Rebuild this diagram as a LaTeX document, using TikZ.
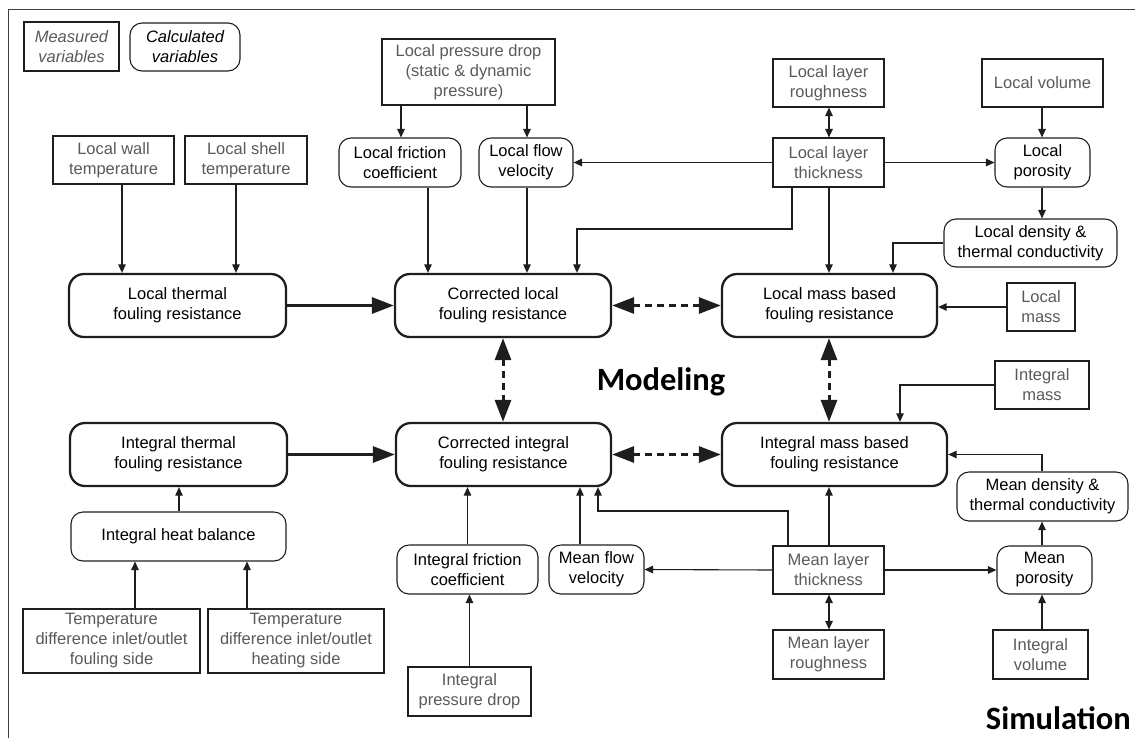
\documentclass[tikz,border=0pt]{standalone}
\usepackage{fontspec}
\setmainfont{Liberation Sans}
\newfontfamily\calib{Carlito}
\usetikzlibrary{arrows.meta}
\definecolor{lc}{HTML}{1E1E1E}
\definecolor{tg}{HTML}{5A5A5A}
\newcommand\place[7]{\node[#2,minimum width={(#5)-(#3)},minimum height={(#6)-(#4)}] (#1) at ({((#3)+(#5))/2},{((#4)+(#6))/2}) {#7};}
\begin{document}
\begin{tikzpicture}[x=1pt,y=-1pt,
 every node/.style={font=\fontsize{16.5}{20}\selectfont, align=center, inner sep=0pt},
 meas/.style={draw=lc, line width=1.1pt, text=tg},
 calc/.style={draw=lc, line width=1.1pt, rounded corners=12pt, text=black},
 boldb/.style={draw=lc, line width=2.3pt, rounded corners=15pt, text=black},
 arr/.style={draw=lc, line width=1.1pt, -{Triangle[length=8.5pt,width=7.5pt]}},
 darr/.style={draw=lc, line width=1.1pt, {Triangle[length=8.5pt,width=7.5pt]}-{Triangle[length=8.5pt,width=7.5pt]}},
 fat/.style={draw=lc, line width=3pt, -{Triangle[length=22pt,width=16pt]}},
 dsh/.style={draw=lc, line width=3pt, dash pattern=on 7pt off 5pt, {Triangle[length=22pt,width=16pt]}-{Triangle[length=22pt,width=16pt]}},
 title/.style={font=\calib\bfseries\fontsize{32.5}{38}\selectfont, text=black}]
\useasboundingbox (0,0) rectangle (1135,737);
\draw[line width=1pt, black!75] (8,745) -- (8,9) -- (1145,9);

% legend
\place{meas}{meas}{24}{22}{119}{71}{\itshape Measured\\\itshape variables}
\place{calc}{calc}{130}{23}{240}{71}{\itshape Calculated\\\itshape variables}

% top
\place{lpd}{meas}{382}{39}{555}{105}{Local pressure drop\\(static \& dynamic\\pressure)}
\place{lrough}{meas}{773}{59}{884}{107}{Local layer\\roughness}
\place{lvol}{meas}{982}{59}{1103}{107}{Local volume}
\place{lwall}{meas}{53}{136}{174}{184}{Local wall\\temperature}
\place{lshell}{meas}{185}{136}{307}{184}{Local shell\\temperature}
\place{lfric}{calc}{339}{138}{461}{187}{Local friction\\coefficient}
\place{lvel}{calc}{479}{138}{573}{187}{Local flow\\velocity}
\place{lthick}{meas}{773}{138}{884}{187}{Local layer\\thickness}
\place{lpor}{calc}{995}{138}{1090}{187}{Local\\porosity}
\place{ldens}{calc}{944}{219}{1117}{267}{Local density \&\\thermal conductivity}

% main
\place{lth}{boldb}{69}{274}{286}{337}{Local thermal\\fouling resistance}
\place{clocal}{boldb}{395}{274}{611}{337}{Corrected local\\fouling resistance}
\place{lmass}{boldb}{722}{274}{937}{337}{Local mass based\\fouling resistance}
\place{lmassm}{meas}{1007}{283}{1075}{331}{Local\\mass}
\place{imassm}{meas}{995}{361}{1089}{409}{Integral\\mass}
\place{ith}{boldb}{70}{423}{287}{486}{Integral thermal\\fouling resistance}
\place{cint}{boldb}{396}{423}{611}{486}{Corrected integral\\fouling resistance}
\place{imass}{boldb}{722}{423}{947}{486}{Integral mass based\\fouling resistance}

% bottom
\place{mdens}{calc}{957}{472}{1128}{521}{Mean density \&\\thermal conductivity}
\place{hb}{calc}{71}{512}{286}{561}{Integral heat balance}
\place{ifric}{calc}{397}{545}{538}{594}{Integral friction\\coefficient}
\place{mvel}{calc}{549}{545}{644}{594}{Mean flow\\velocity}
\place{mthick}{meas}{773}{546}{884}{594}{Mean layer\\thickness}
\place{mpor}{calc}{997}{546}{1092}{594}{Mean\\porosity}
\place{tfoul}{meas}{23}{609}{200}{673}{Temperature\\difference inlet/outlet\\fouling side}
\place{theat}{meas}{208}{609}{384}{673}{Temperature\\difference inlet/outlet\\heating side}
\place{mrough}{meas}{773}{630}{884}{679}{Mean layer\\roughness}
\place{ivol}{meas}{993}{630}{1088}{679}{Integral\\volume}
\place{ipd}{meas}{408}{667}{531}{716}{Integral\\pressure drop}

\node[title] (model) at (661,382) {Modeling};
\node[title, anchor=base east] (sim) at (1131,729) {Simulation};

% helper coordinates
\coordinate (v1) at (122,0);
\coordinate (v2) at (236,0);
\coordinate (v3) at (401,0);
\coordinate (v4) at (527,0);
\coordinate (v5) at (428,0);
\coordinate (v6) at (829,0);
\coordinate (v7) at (1042,0);
\coordinate (b1) at (792,229);
\coordinate (b2) at (577,229);
\coordinate (b3) at (893,0);
\coordinate (b4) at (900,0);
\coordinate (b5) at (788,511);
\coordinate (b6) at (598,511);
\coordinate (v8) at (580,0);
\coordinate (v9) at (179,0);
\coordinate (v10) at (135,0);
\coordinate (v11) at (247,0);
\coordinate (v12) at (503,0);

% top connectors
\draw[arr] (lwall.south -| v1) -- (lth.north -| v1);
\draw[arr] (lshell.south -| v2) -- (lth.north -| v2);
\draw[arr] (lpd.south -| v3) -- (lfric.north -| v3);
\draw[arr] (lpd.south -| v4) -- (lvel.north -| v4);
\draw[arr] (lfric.south -| v5) -- (clocal.north -| v5);
\draw[arr] (lvel.south -| v4) -- (clocal.north -| v4);
\draw[arr] (lthick.west) -- (lvel.east);
\draw[arr] (lthick.east) -- (lpor.west);
\draw[darr] (lrough.south -| v6) -- (lthick.north -| v6);
\draw[arr] (lvol.south -| v7) -- (lpor.north -| v7);
\draw[arr] (lpor.south -| v7) -- (ldens.north -| v7);
\draw[arr] (lthick.south -| b1) -- (b1) -- (b2) -- (clocal.north -| b2);
\draw[arr] (lthick.south -| v6) -- (lmass.north -| v6);
\draw[arr] (ldens.west) -| (lmass.north -| b3);
\draw[arr] (lmassm.west) -- (lmass.east |- lmassm.west);

% main connectors
\draw[fat] (lth.east) -- (clocal.west);
\draw[fat] (ith.east) -- (cint.west);
\draw[dsh] (clocal.east) -- (lmass.west);
\draw[dsh] (cint.east) -- (imass.west);
\draw[dsh] (clocal.south -| v12) -- (cint.north -| v12);
\draw[dsh] (lmass.south -| v6) -- (imass.north -| v6);

% bottom connectors
\draw[arr] (imassm.west) -| (imass.north -| b4);
\draw[arr] (mdens.north -| v7) |- (imass.east);
\draw[arr] (mpor.north -| v7) -- (mdens.south -| v7);
\draw[arr] (ivol.north -| v7) -- (mpor.south -| v7);
\draw[arr] (mthick.east) -- (mpor.west);
\draw[arr] (mthick.west) -- (mvel.east);
\draw[arr] (mthick.north -| v6) -- (imass.south -| v6);
\draw[arr] (mthick.north -| b5) -- (b5) -- (b6) -- (cint.south -| b6);
\draw[darr] (mthick.south -| v6) -- (mrough.north -| v6);
\draw[arr] (mvel.north -| v8) -- (cint.south -| v8);
\draw[arr] (ifric.north) -- (cint.south -| ifric.north);
\draw[arr] (ipd.north) -- (ifric.south -| ipd.north);
\draw[arr] (hb.north -| v9) -- (ith.south -| v9);
\draw[arr] (tfoul.north -| v10) -- (hb.south -| v10);
\draw[arr] (theat.north -| v11) -- (hb.south -| v11);
\end{tikzpicture}
\end{document}
